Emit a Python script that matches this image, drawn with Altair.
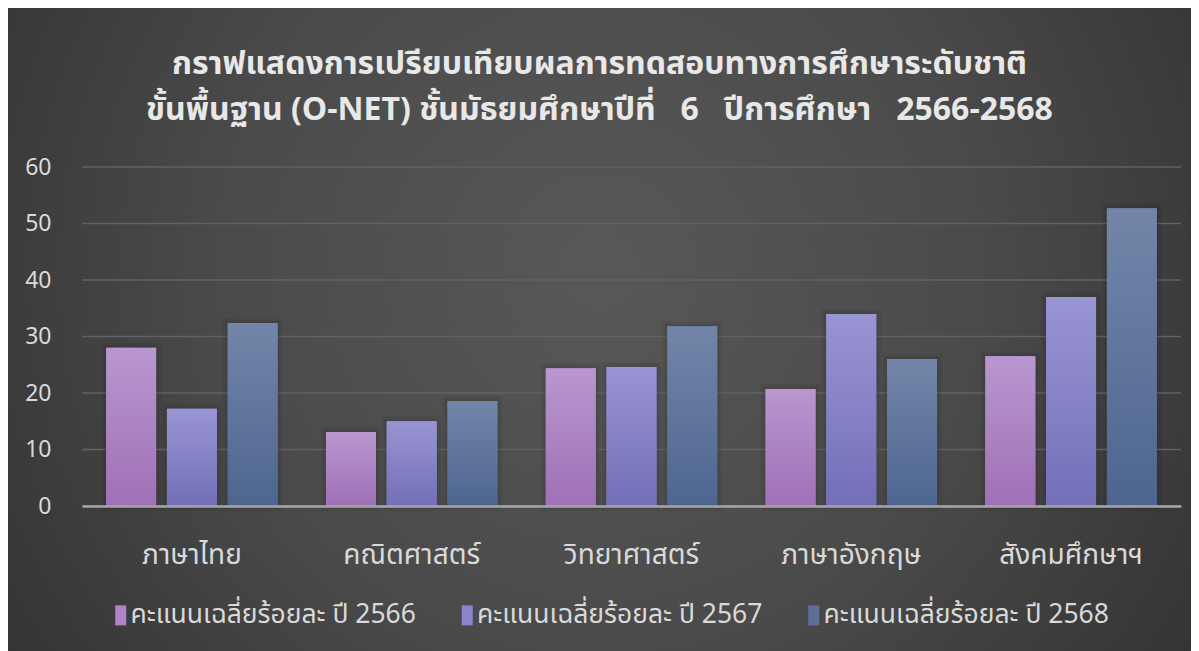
import altair as alt
import pandas as pd

subjects = ["ภาษาไทย", "คณิตศาสตร์", "วิทยาศาสตร์", "ภาษาอังกฤษ", "สังคมศึกษาฯ"]
series_names = ["คะแนนเฉลี่ยร้อยละ ปี 2566", "คะแนนเฉลี่ยร้อยละ ปี 2567", "คะแนนเฉลี่ยร้อยละ ปี 2568"]
v2566 = [28.0, 13.1, 24.4, 20.7, 26.5]
v2567 = [17.2, 15.0, 24.6, 34.0, 37.0]
v2568 = [32.4, 18.6, 31.8, 26.0, 52.7]
y_ticks = [0, 10, 20, 30, 40, 50, 60]
title_lines = [
    "กราฟแสดงการเปรียบเทียบผลการทดสอบทางการศึกษาระดับชาติ",
    "ขั้นพื้นฐาน (O-NET) ชั้นมัธยมศึกษาปีที่ \u00a0 6 \u00a0 ปีการศึกษา \u00a0 2566-2568",
]

rows = []
for name, vals in zip(series_names, [v2566, v2567, v2568]):
    for s, v in zip(subjects, vals):
        rows.append({"subject": s, "series": name, "value": v})
df = pd.DataFrame(rows)
ticks_df = pd.DataFrame({"value": y_ticks})

W, H = 1099, 339
FONT = "Noto Sans Thai, Noto Sans, sans-serif"

solid = ["#b085c8", "#8b84cc", "#5b6f99"]
grad_stops = [
    ("#b997d0", "#9f70b6"),
    ("#9995d3", "#736fb8"),
    ("#7386a9", "#4d6590"),
]

x_enc = alt.X(
    "subject:N",
    sort=subjects,
    scale=alt.Scale(paddingInner=0.22, paddingOuter=0.11),
    axis=alt.Axis(
        title=None, labelAngle=0, labelFontSize=28, labelColor="#d9d9d9",
        labelFont=FONT, labelPadding=35, ticks=False, domainColor="#a6a6a6",
        domainWidth=2.5, grid=False, zindex=1,
    ),
)
xo_enc = alt.XOffset(
    "series:N", sort=series_names,
    scale=alt.Scale(domain=series_names, paddingInner=0.178, paddingOuter=0),
)
y_scale = alt.Scale(domain=[0, 60])
y_enc = alt.Y(
    "value:Q",
    scale=y_scale,
    axis=alt.Axis(
        values=y_ticks, title=None, domain=False, ticks=False, labelPadding=31,
        grid=False, labelFontSize=23, labelColor="#d9d9d9",
        labelFont=FONT, zindex=1,
    ),
)

bg = alt.Chart(alt.Data(values=[{}])).mark_rect(
    fill=alt.Gradient(
        gradient="radial",
        stops=[alt.GradientStop(color="#585858", offset=0),
               alt.GradientStop(color="#4a4a4a", offset=0.45),
               alt.GradientStop(color="#2a2a2a", offset=1)],
        x1=0.5, y1=0.45, r1=0, x2=0.5, y2=0.45, r2=0.72,
    )
).encode(
    x=alt.value(-74), x2=alt.value(W + 10), y=alt.value(-159), y2=alt.value(H + 145)
)

grid = alt.Chart(ticks_df).mark_rule(color="#626262", strokeWidth=1.5).encode(y=y_enc)

shadow_outer = alt.Chart(df).mark_bar(
    fill="#000000", fillOpacity=0.0, stroke="#000000", strokeWidth=10, strokeOpacity=0.05
).encode(x=x_enc, xOffset=xo_enc, y=y_enc)
shadow_inner = alt.Chart(df).mark_bar(
    fill="#000000", fillOpacity=0.0, stroke="#000000", strokeWidth=5, strokeOpacity=0.06
).encode(x=x_enc, xOffset=xo_enc, y=y_enc)

base = alt.Chart(df).mark_bar().encode(
    x=x_enc, xOffset=xo_enc, y=y_enc,
    color=alt.Color(
        "series:N",
        scale=alt.Scale(domain=series_names, range=solid),
        legend=alt.Legend(
            title=None, orient="none", legendX=21, legendY=435, direction="horizontal",
            symbolType="M-0.1,-1H1V1H-0.1Z", symbolSize=400,
            symbolStrokeWidth=0, labelFontSize=26.5, labelColor="#d9d9d9", labelFont=FONT,
            labelOffset=1, labelLimit=600, columnPadding=33.5,
        ),
    ),
)

layers = [bg, grid, shadow_outer, shadow_inner, base]
for name, (top, bot) in zip(series_names, grad_stops):
    layers.append(
        alt.Chart(df).transform_filter(alt.datum.series == name).mark_bar(
            fill=alt.Gradient(
                gradient="linear",
                stops=[alt.GradientStop(color=top, offset=0),
                       alt.GradientStop(color=bot, offset=1)],
                x1=0, y1=0, x2=0, y2=1,
            )
        ).encode(x=x_enc, xOffset=xo_enc, y=y_enc)
    )

chart = alt.layer(*layers).properties(
    width=W, height=H,
    title=alt.Title(
        text=title_lines, fontSize=32, fontWeight="bold", color="#e8e8e8",
        font=FONT, anchor="middle", dx=-32, offset=-119, lineHeight=46,
    ),
    autosize=alt.AutoSizeParams(type="none"),
    padding={"left": 74, "top": 159, "right": 10, "bottom": 145},
).configure(background="#3a3a3a").configure_view(stroke=None)

chart.save("out.html", embed_options={"renderer": "svg", "actions": False})
